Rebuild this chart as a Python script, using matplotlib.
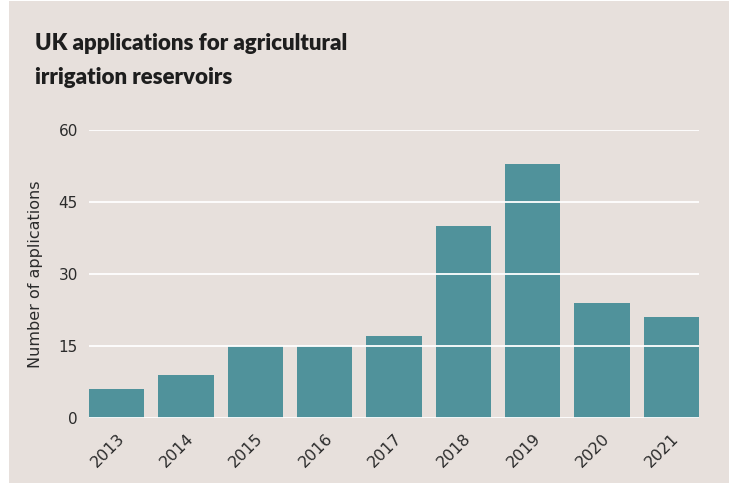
import matplotlib.pyplot as plt
from matplotlib.patches import Rectangle

years = ["2013", "2014", "2015", "2016", "2017", "2018", "2019", "2020", "2021"]
applications = [6, 9, 15, 15, 17, 40, 53, 24, 21]
y_ticks = [0, 15, 30, 45, 60]

bg = "#e7e0dc"
bar_color = "#50929b"
text_color = "#2b2b2b"

plt.rcParams['font.family'] = ['DejaVu Sans']

fig = plt.figure(figsize=(7.33, 4.9), dpi=100, facecolor="white")
fig.patches.append(Rectangle((9 / 733, 1 - 483 / 490), 720 / 733, 482 / 490,
                             transform=fig.transFigure, facecolor=bg,
                             edgecolor="none", zorder=-10))

ax = fig.add_axes([89 / 733, 1 - 418 / 490, 610 / 733, 288 / 490])
ax.set_facecolor("none")

x = range(len(years))
ax.bar(x, applications, width=0.8, color=bar_color, zorder=2)

ax.set_xlim(-0.4, len(years) - 0.6)
ax.set_ylim(0, 60)
ax.set_yticks(y_ticks)
ax.set_xticks(list(x))
ax.set_xticklabels(years, rotation=45, ha="right", rotation_mode="anchor")
for y in y_ticks:
    ax.axhline(y, color="white", lw=1.3, zorder=3)

for s in ax.spines.values():
    s.set_visible(False)
ax.tick_params(axis="both", length=0, labelsize=11, colors=text_color)
ax.tick_params(axis="x", labelsize=11.5, pad=9)
ax.tick_params(axis="y", pad=8)
ax.set_ylabel("Number of applications", fontsize=11.5, color=text_color, labelpad=11)

title_font = dict(fontsize=16, fontweight="heavy", color="#1e1e1e",
                  va="baseline", family=["Lato", "DejaVu Sans"])
fig.text(35 / 733, 1 - 50 / 490, "UK applications for agricultural", **title_font)
fig.text(35 / 733, 1 - 84 / 490, "irrigation reservoirs", **title_font)

fig.savefig("out.png", dpi=100, facecolor="white")
